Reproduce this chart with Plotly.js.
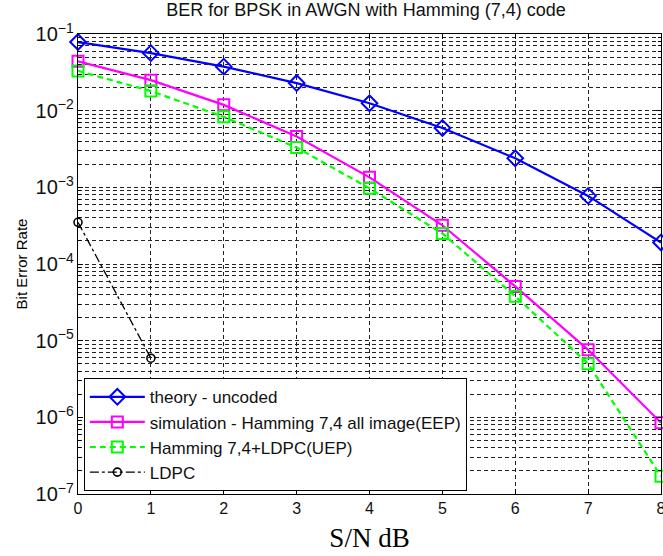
<!DOCTYPE html>
<html>
<head>
<meta charset="utf-8">
<script src="https://cdn.plot.ly/plotly-3.0.1.min.js"></script>
<style>html,body{margin:0;padding:0;background:#fff;}#chart{width:663px;height:556px;}</style>
</head>
<body>
<div id="chart"></div>
<script>
const snr = [0, 1, 2, 3, 4, 5, 6, 7, 8];
const theoryUncoded = [0.0786, 0.0563, 0.0375, 0.0229, 0.0125, 0.00595, 0.00239, 0.000773, 0.000191];
const hammingEEP = [0.044, 0.025, 0.0119, 0.0046, 0.00135, 0.00032, 0.000051, 0.0000076, 0.00000085];
const hammingLdpcUEP = [0.033, 0.018, 0.0083, 0.0033, 0.00097, 0.00025, 0.000038, 0.000005, 0.00000017];
const ldpcSnr = [0, 1];
const ldpc = [0.00035, 0.0000059];
const seriesNames = ['theory - uncoded', 'simulation - Hamming 7,4 all image(EEP)', 'Hamming 7,4+LDPC(UEP)', 'LDPC'];

const traces = [
  {x: snr, y: theoryUncoded, name: seriesNames[0], legendgroup: 'a', mode: 'lines+markers', cliponaxis: false,
   line: {color: '#0000ff', width: 2.2}, marker: {symbol: 'diamond-open', size: 12, color: '#0000ff', line: {width: 2}}},
  {x: snr, y: hammingEEP, name: seriesNames[1], legendgroup: 'b', mode: 'lines+markers', cliponaxis: false,
   line: {color: '#ff00ff', width: 2.2}, marker: {symbol: 'square-open', size: 11, color: '#ff00ff', line: {width: 2}}},
  {x: snr, y: hammingLdpcUEP, name: seriesNames[2], legendgroup: 'c', mode: 'lines+markers', cliponaxis: false,
   line: {color: '#00ff00', width: 2.2, dash: '6px,4px'}, marker: {symbol: 'square-open', size: 11, color: '#00ff00', line: {width: 2}}},
  {x: ldpcSnr, y: ldpc, name: seriesNames[3], legendgroup: 'd', mode: 'lines+markers', cliponaxis: false,
   line: {color: '#000000', width: 1.3, dash: 'dashdot'}, marker: {symbol: 'circle-open', size: 8, color: '#000000', line: {width: 1.6}}}
];

const gridStyle = {showgrid: true, gridcolor: '#222', gridwidth: 1, griddash: '4px,3px'};

const layout = {
  width: 663, height: 556,
  margin: {l: 78, r: 2, t: 34, b: 62},
  paper_bgcolor: '#fff', plot_bgcolor: '#fff',
  font: {family: 'Liberation Sans, Arial, sans-serif', size: 16, color: '#000'},
  title: {text: 'BER for BPSK in AWGN with Hamming (7,4) code', font: {size: 18, color: '#111'}, x: 0.552, xanchor: 'center', y: 0.994, yanchor: 'top'},
  xaxis: Object.assign({
    range: [0, 8], dtick: 1, tick0: 0, zeroline: false,
    showline: true, linecolor: '#000', linewidth: 1, mirror: 'allticks',
    ticks: 'inside', ticklen: 5, tickcolor: '#000', ticklabeloverflow: 'allow',
    tickfont: {size: 16, color: '#111'},
    title: {text: 'S/N dB', font: {family: 'Liberation Serif, Times New Roman, serif', size: 27}, standoff: 11}
  }, gridStyle),
  yaxis: Object.assign({
    type: 'log', range: [-7, -1], dtick: 1, exponentformat: 'power',
    showline: true, linecolor: '#000', linewidth: 1, mirror: 'allticks',
    ticks: 'inside', ticklen: 5, tickcolor: '#000', ticklabeloverflow: 'allow',
    tickfont: {size: 16, color: '#111'},
    minor: {dtick: 'D1', ticks: 'inside', ticklen: 3, tickcolor: '#000', showgrid: true, gridcolor: '#222', gridwidth: 1, griddash: '4px,3px'},
    title: {text: 'Bit Error Rate', font: {size: 15}, standoff: 4}
  }, gridStyle),
  legend: {
    x: 0.01, y: 0.006, xanchor: 'left', yanchor: 'bottom',
    bgcolor: '#fff', bordercolor: '#000', borderwidth: 1,
    font: {size: 17, color: '#111'}, itemwidth: 55, tracegroupgap: 0, traceorder: 'grouped'
  },
  showlegend: true
};

Plotly.newPlot('chart', traces, layout, {displayModeBar: false, staticPlot: true});
</script>
</body>
</html>
